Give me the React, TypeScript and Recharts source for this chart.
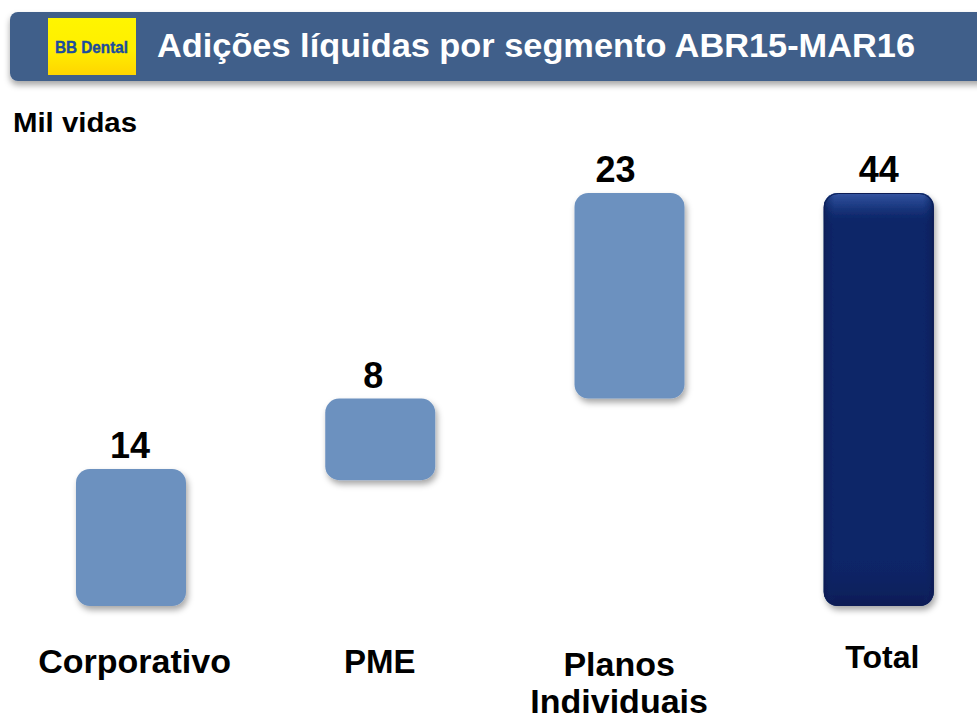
import React from 'react';
import { BarChart, Bar, XAxis, YAxis, LabelList } from 'recharts';

const categories = ['Corporativo', 'PME', 'Planos\nIndividuais', 'Total'];
const barBase = [0, 13.4, 22.1, 0];
const barTop = [14.6, 22.1, 44, 44];
const valueLabels = ['14', '8', '23', '44'];
const isTotal = [false, false, false, true];

const data = categories.map((c, i) => ({
  name: c,
  range: [barBase[i], barTop[i]],
  label: valueLabels[i],
  total: isTotal[i],
}));

const FONT = '"Liberation Sans", Arial, sans-serif';
const tickDx = [4, 0, -10, 4];
const labelDx = [-1, -7, -14, 0];
const tickFs = [34, 33, 34, 32];

const BarShape = (props: any) => {
  const { x, y, width, height, payload } = props;
  if (!width || !height) return null;
  const r = 14;
  if (payload && payload.total) {
    return (
      <g filter="url(#barShadow)">
        <rect x={x} y={y} width={width} height={height} rx={r} ry={r} fill="#0C2567" />
        <rect x={x} y={y} width={width} height={height} rx={r} ry={r} fill="url(#totV)" />
        <rect x={x} y={y} width={width} height={height} rx={r} ry={r} fill="url(#totH)" />
        <rect x={x + 0.5} y={y + 0.5} width={width - 1} height={height - 1} rx={r} ry={r} fill="none" stroke="#0A1E55" strokeWidth={1} />
      </g>
    );
  }
  return (
    <g filter="url(#barShadow)">
      <rect x={x} y={y} width={width} height={height} rx={r} ry={r} fill="#6C91BF" />
    </g>
  );
};

const ValueLabel = (props: any) => {
  const { x, y, width, value, index } = props;
  return (
    <text
      x={x + width / 2 + (labelDx[index] || 0)}
      y={y - 11}
      textAnchor="middle"
      fontFamily={FONT}
      fontWeight="bold"
      fontSize={36}
      fill="#000"
    >
      {value}
    </text>
  );
};

const CatTick = (props: any) => {
  const { x, y, payload, index } = props;
  const lines = String(payload.value).split('\n');
  const multi = lines.length > 1;
  const fs = tickFs[index] || 33;
  const base = multi ? 70 : index === 3 ? 62 : 67;
  return (
    <g>
      {lines.map((l, i) => (
        <text
          key={i}
          x={x + (tickDx[index] || 0)}
          y={y + base + i * 37}
          textAnchor="middle"
          fontFamily={FONT}
          fontWeight="bold"
          fontSize={fs}
          fill="#000"
        >
          {l}
        </text>
      ))}
    </g>
  );
};

export default function App() {
  return (
    <div style={{ position: 'absolute', left: 0, top: 0, width: 977, height: 720, overflow: 'hidden', background: '#fff' }}>
      <svg width={977} height={720} style={{ position: 'absolute', left: 0, top: 0 }}>
        <defs>
          <filter id="hdrShadow" x="-5%" y="-20%" width="110%" height="160%">
            <feDropShadow dx="0" dy="4" stdDeviation="3" floodColor="#000" floodOpacity="0.35" />
          </filter>
          <linearGradient id="logoGrad" x1="0" y1="0" x2="0" y2="1">
            <stop offset="0%" stopColor="#FFF500" />
            <stop offset="55%" stopColor="#FFEF00" />
            <stop offset="100%" stopColor="#FFD500" />
          </linearGradient>
        </defs>
        <rect x={10} y={12} width={1000} height={69} rx={8} ry={8} fill="#3F5F8A" filter="url(#hdrShadow)" />
        <rect x={48} y={18} width={88} height={57} fill="url(#logoGrad)" />
        <text x={55} y={53} fontFamily='"Liberation Sans Narrow", "Arial Narrow", "Liberation Sans", Arial, sans-serif' fontWeight="bold" fontSize={17} fill="#1C4C9C" stroke="#1C4C9C" strokeWidth={0.4} textLength={73} lengthAdjust="spacingAndGlyphs">
          BB Dental
        </text>
        <text x={157} y={57} fontFamily={FONT} fontWeight="bold" fontSize={34} fill="#FFFFFF" textLength={758} lengthAdjust="spacingAndGlyphs">
          Adições líquidas por segmento ABR15-MAR16
        </text>
        <text x={13} y={132} fontFamily={FONT} fontWeight="bold" fontSize={28} fill="#000" textLength={124} lengthAdjust="spacingAndGlyphs">
          Mil vidas
        </text>
      </svg>
      <div style={{ position: 'absolute', left: 0, top: 0 }}>
        <BarChart
          width={1003}
          height={720}
          data={data}
          margin={{ top: 193, right: 0, left: 6, bottom: 14 }}
          barSize={110}
        >
          <defs>
            <filter id="barShadow" x="-20%" y="-10%" width="140%" height="125%">
              <feDropShadow dx="2" dy="4" stdDeviation="3" floodColor="#000" floodOpacity="0.35" />
            </filter>
            <linearGradient id="totV" x1="0" y1="0" x2="0" y2="1">
              <stop offset="0%" stopColor="#3A5BA8" stopOpacity={0.9} />
              <stop offset="3%" stopColor="#2A4B98" stopOpacity={0.6} />
              <stop offset="8%" stopColor="#0C2567" stopOpacity={0} />
              <stop offset="88%" stopColor="#0C2567" stopOpacity={0} />
              <stop offset="100%" stopColor="#051A50" stopOpacity={0.8} />
            </linearGradient>
            <linearGradient id="totH" x1="0" y1="0" x2="1" y2="0">
              <stop offset="0%" stopColor="#051A50" stopOpacity={0.7} />
              <stop offset="10%" stopColor="#0C2567" stopOpacity={0} />
              <stop offset="90%" stopColor="#0C2567" stopOpacity={0} />
              <stop offset="100%" stopColor="#051A50" stopOpacity={0.7} />
            </linearGradient>
          </defs>
          <XAxis
            dataKey="name"
            axisLine={false}
            tickLine={false}
            tickSize={0}
            tickMargin={0}
            height={100}
            interval={0}
            tick={<CatTick />}
          />
          <YAxis hide domain={[0, 44]} />
          <Bar dataKey="range" isAnimationActive={false} shape={<BarShape />}>
            <LabelList dataKey="label" content={<ValueLabel />} />
          </Bar>
        </BarChart>
      </div>
    </div>
  );
}
